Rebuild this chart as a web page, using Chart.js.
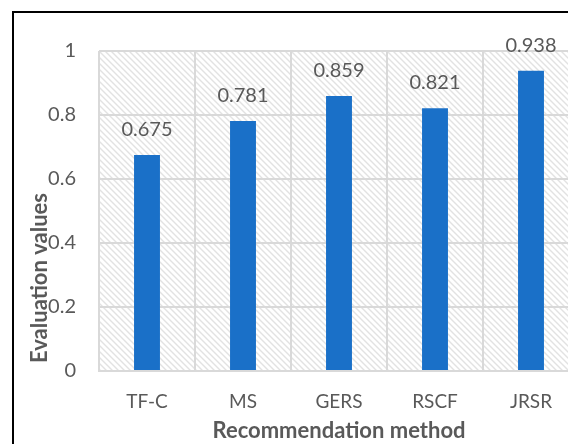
<!DOCTYPE html>
<html>
<head>
<meta charset="utf-8">
<script src="https://cdn.jsdelivr.net/npm/chart.js@4/dist/chart.umd.min.js"></script>
<style>
  html, body { margin: 0; padding: 0; background: #fff; overflow: hidden; }
  #wrap { position: relative; width: 600px; height: 444px; }
</style>
</head>
<body>
<div id="wrap"><canvas id="chart" width="600" height="444"></canvas></div>
<script>
// Data
const methods = ['TF-C', 'MS', 'GERS', 'RSCF', 'JRSR'];
const scores = [0.675, 0.781, 0.859, 0.821, 0.938];
const yTicks = [0, 0.2, 0.4, 0.6, 0.8, 1];

const TEXT_GREY = '#595959';
const GRID_GREY = '#d9d9d9';
const BAR_BLUE = '#1a70c8';
const FONT = 'Lato, "Open Sans", sans-serif';

// diagonal hatch for the plot area
function makeHatch(ctx) {
  const tile = document.createElement('canvas');
  tile.width = 6;
  tile.height = 6;
  const t = tile.getContext('2d');
  t.fillStyle = '#fff';
  t.fillRect(0, 0, 6, 6);
  t.strokeStyle = '#e2e2e2';
  t.lineWidth = 1.4;
  t.beginPath();
  t.moveTo(-1, -1); t.lineTo(7, 7);
  t.moveTo(-1, 5); t.lineTo(1, 7);
  t.moveTo(5, -1); t.lineTo(7, 1);
  t.stroke();
  return ctx.createPattern(tile, 'repeat');
}

const backdrop = {
  id: 'backdrop',
  beforeDraw(chart) {
    const { ctx, chartArea } = chart;
    ctx.save();
    ctx.fillStyle = '#fff';
    ctx.fillRect(0, 0, chart.width, chart.height);
    ctx.fillStyle = makeHatch(ctx);
    ctx.fillRect(chartArea.left, chartArea.top, chartArea.right - chartArea.left, chartArea.bottom - chartArea.top);
    ctx.restore();
  },
  afterDraw(chart) {
    const { ctx } = chart;
    ctx.save();
    // outer frame
    ctx.strokeStyle = '#000';
    ctx.lineWidth = 2;
    ctx.strokeRect(13, 12, 700, 700);
    // y axis title
    ctx.translate(40, 278);
    ctx.rotate(-Math.PI / 2);
    ctx.fillStyle = TEXT_GREY;
    ctx.font = 'bold 22px ' + FONT;
    ctx.textAlign = 'center';
    ctx.textBaseline = 'middle';
    ctx.fillText('Evaluation values', 0, 0);
    ctx.restore();
  }
};

// value labels above the bars
const valueLabels = {
  id: 'valueLabels',
  afterDatasetsDraw(chart) {
    const { ctx } = chart;
    const meta = chart.getDatasetMeta(0);
    ctx.save();
    ctx.fillStyle = TEXT_GREY;
    ctx.font = '20px ' + FONT;
    ctx.textAlign = 'center';
    ctx.textBaseline = 'alphabetic';
    meta.data.forEach((bar, i) => {
      ctx.fillText(scores[i].toFixed(3), bar.x, bar.y - 19);
    });
    ctx.restore();
  }
};

new Chart(document.getElementById('chart'), {
  type: 'bar',
  data: {
    labels: methods,
    datasets: [{
      data: scores,
      backgroundColor: BAR_BLUE,
      borderWidth: 0,
      categoryPercentage: 1,
      barPercentage: 0.27,
    }],
  },
  options: {
    responsive: false,
    animation: false,
    layout: { padding: { top: 51, right: 21, bottom: 0, left: 0 } },
    plugins: { legend: { display: false }, tooltip: { enabled: false } },
    scales: {
      x: {
        offset: true,
        grid: { color: GRID_GREY, lineWidth: 2, offset: true, drawTicks: false },
        border: { color: GRID_GREY, width: 2 },
        ticks: { color: TEXT_GREY, font: { family: FONT, size: 19 }, padding: 19 },
        title: {
          display: true,
          text: 'Recommendation method',
          color: TEXT_GREY,
          font: { family: FONT, size: 22, weight: 'bold' },
          padding: { top: 0, bottom: 0 },
        },
        afterFit(scale) { scale.height = 73; },
      },
      y: {
        min: 0,
        max: 1,
        afterBuildTicks(scale) { scale.ticks = yTicks.map((v) => ({ value: v })); },
        grid: { color: GRID_GREY, lineWidth: 2, drawTicks: false },
        border: { display: false },
        ticks: {
          color: TEXT_GREY,
          font: { family: FONT, size: 20 },
          padding: 23,
          callback: (v) => String(v),
        },
        afterFit(scale) { scale.width = 99; },
      },
    },
  },
  plugins: [backdrop, valueLabels],
});
</script>
</body>
</html>
